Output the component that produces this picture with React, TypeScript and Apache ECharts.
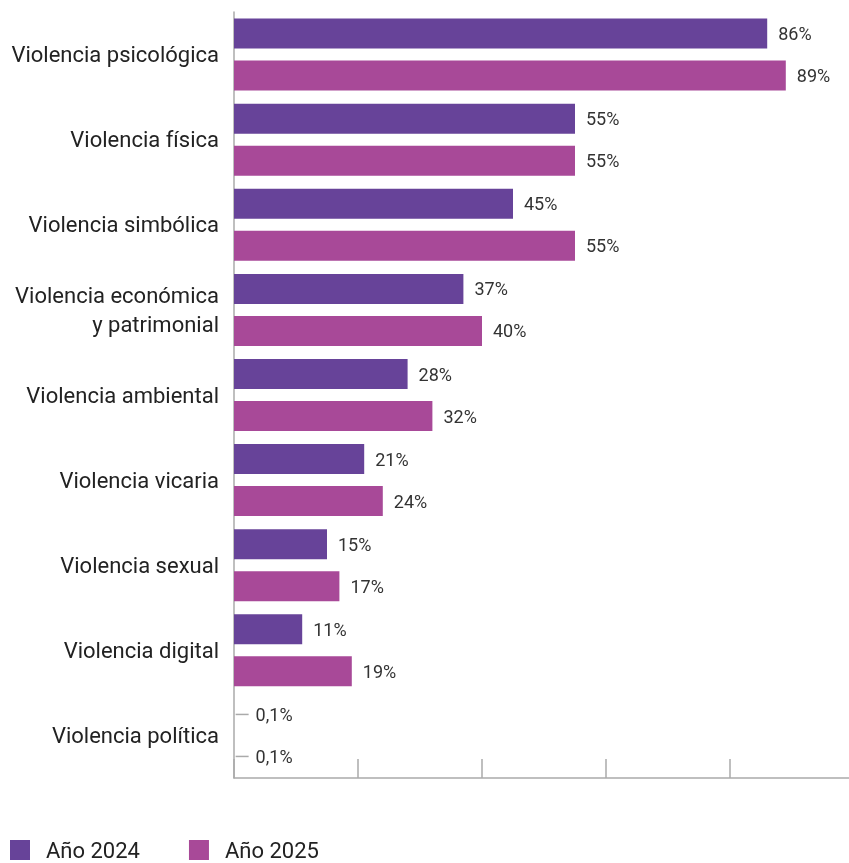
import React, { useEffect, useRef } from "react";
import * as echarts from "echarts";

const categories = [
  "Violencia psicológica",
  "Violencia física",
  "Violencia simbólica",
  "Violencia económica\ny patrimonial",
  "Violencia ambiental",
  "Violencia vicaria",
  "Violencia sexual",
  "Violencia digital",
  "Violencia política",
];
const values2024 = [86, 55, 45, 37, 28, 21, 15, 11, 0.1];
const values2025 = [89, 55, 55, 40, 32, 24, 17, 19, 0.1];
const seriesNames = ["Año 2024", "Año 2025"];
const xTicks = [0, 20, 40, 60, 80, 100];

const FONT = "Roboto, 'Noto Sans', sans-serif";

function fmt(v: number) {
  if (v < 1) return "{ln|}{sp|}{t|" + String(v).replace(".", ",") + "%}";
  return "{t|" + v + "%}";
}

function items(vals: number[]) {
  return vals.map((v) =>
    v < 1 ? { value: v, itemStyle: { color: "rgba(0,0,0,0)" }, label: { distance: 1 } } : v
  );
}

export default function App() {
  const ref = useRef<HTMLDivElement>(null);
  useEffect(() => {
    const chart = echarts.init(ref.current!, null, { renderer: "svg" });
    const label = {
      show: true,
      position: "right",
      distance: 11,
      formatter: (p: any) => fmt(p.value),
      rich: {
        t: { fontSize: 18, color: "#333", fontFamily: FONT },
        ln: { width: 13, height: 1.5, backgroundColor: "#aaa" },
        sp: { width: 7, height: 1 },
      },
    };
    chart.setOption({
      animation: false,
      textStyle: { fontFamily: FONT },
      grid: { left: 234, top: 12, width: 620, height: 766, containLabel: false },
      legend: {
        left: 10,
        top: 839,
        padding: 0,
        itemWidth: 20,
        itemHeight: 20,
        itemGap: 49,
        icon: "rect",
        data: seriesNames,
        textStyle: { fontSize: 22, lineHeight: 20, color: "#222", fontFamily: FONT, padding: [0, 0, 0, 11] },
      },
      xAxis: {
        type: "value",
        min: xTicks[0],
        max: xTicks[xTicks.length - 1],
        interval: 20,
        axisLine: { show: true, lineStyle: { color: "#aaa", width: 1.5 } },
        axisTick: { show: true, inside: true, length: 19, lineStyle: { color: "#aaa", width: 1.5 } },
        axisLabel: { show: false },
        splitLine: { show: false },
      },
      yAxis: {
        type: "category",
        inverse: true,
        data: categories,
        axisLine: { show: true, lineStyle: { color: "#aaa", width: 1.5 } },
        axisTick: { show: false },
        axisLabel: {
          fontSize: 22,
          color: "#222",
          fontFamily: FONT,
          margin: 15,
          lineHeight: 29,
          align: "right",
        },
      },
      series: [
        {
          name: seriesNames[0],
          type: "bar",
          data: items(values2024),
          barWidth: 30,
          barGap: "40%",
          itemStyle: { color: "#674399" },
          label,
        },
        {
          name: seriesNames[1],
          type: "bar",
          data: items(values2025),
          barWidth: 30,
          barGap: "40%",
          itemStyle: { color: "#a84998" },
          label,
        },
      ],
    });
    return () => chart.dispose();
  }, []);
  return (
    <div style={{ position: "fixed", left: 0, top: 0, width: 849, height: 863, overflow: "hidden" }}>
      <div ref={ref} style={{ position: "absolute", left: 0, top: 0, width: 880, height: 863 }} />
    </div>
  );
}
